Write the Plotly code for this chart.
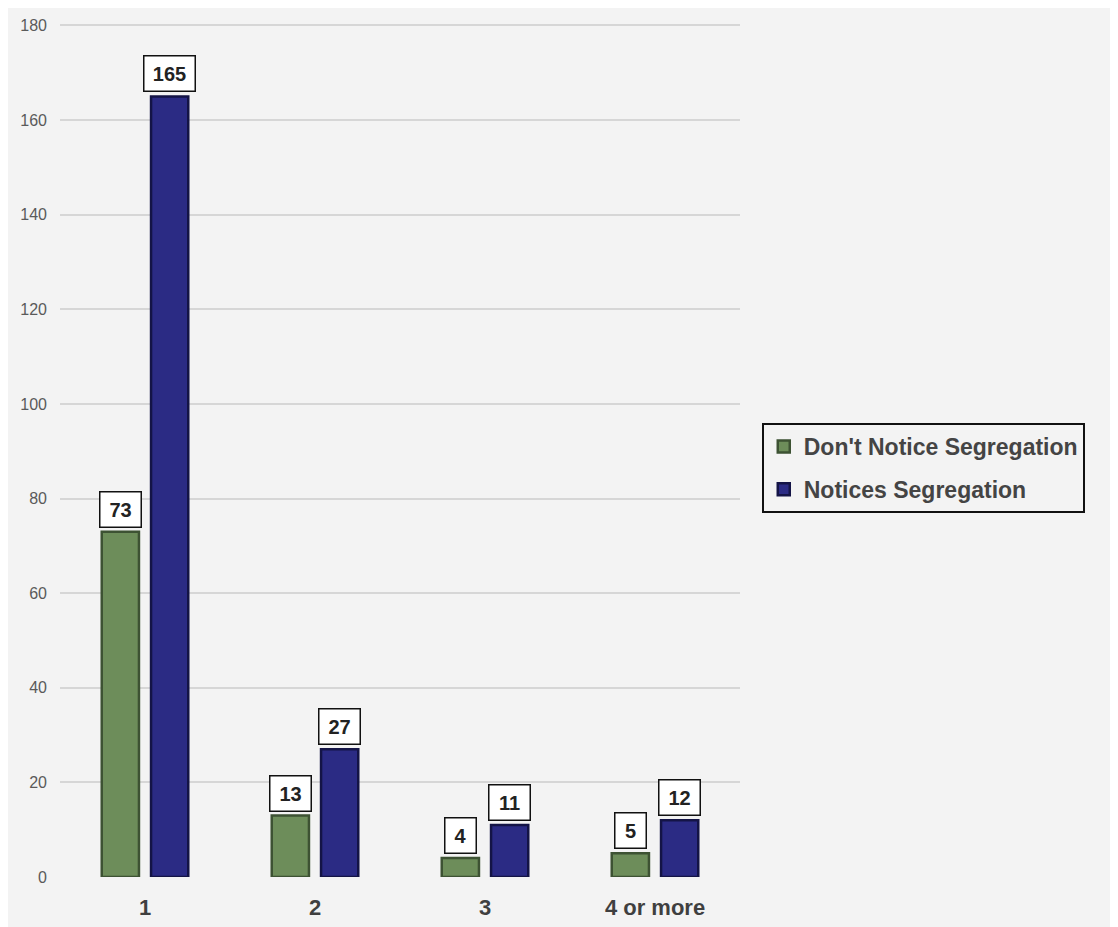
import plotly.graph_objects as go

categories = ["1", "2", "3", "4 or more"]
dont_notice = [73, 13, 4, 5]
notices = [165, 27, 11, 12]
series_names = ["Don't Notice Segregation", "Notices Segregation"]
y_ticks = [0, 20, 40, 60, 80, 100, 120, 140, 160, 180]

W, H = 1118, 927
L, R, T, B = 52, 386, 16, 58
bargap = 0.42
bargroupgap = 0.245
cat_px = (W - L - R) / len(categories)
shift = cat_px * (1 - bargap) / 4

FONT = "Liberation Sans, Arial, sans-serif"

fig = go.Figure()
fig.add_trace(go.Bar(
    x=categories, y=dont_notice, name=f"<b>{series_names[0]}</b>", legendgroup="a",
    marker=dict(color="#6d8d5a", line=dict(color="#3d5233", width=2.5)),
))
fig.add_trace(go.Bar(
    x=categories, y=notices, name=f"<b>{series_names[1]}</b>", legendgroup="b",
    marker=dict(color="#2b2b84", line=dict(color="#141446", width=2.5)),
))

annotations = []
for vals, sgn in [(dont_notice, -1), (notices, 1)]:
    for i, v in enumerate(vals):
        annotations.append(dict(
            x=i, y=v, xref="x", yref="y", text=f"<b>{v}</b>", showarrow=False,
            xshift=sgn * shift, yanchor="bottom", yshift=4,
            width=len(str(v)) * 10 + 8,
            font=dict(family=FONT, size=20, color="#222222"),
            bgcolor="white", bordercolor="#111111", borderwidth=1.5, borderpad=6,
        ))

fig.update_layout(
    width=W, height=H,
    margin=dict(l=L, r=R, t=T, b=B),
    paper_bgcolor="#f3f3f3", plot_bgcolor="#f3f3f3",
    barmode="group", bargap=bargap, bargroupgap=bargroupgap,
    font=dict(family=FONT, color="#555555"),
    xaxis=dict(
        type="category", showgrid=False, zeroline=False, showline=False,
        tickfont=dict(size=22, color="#3f3f3f", family=FONT),
        tickprefix="<b>", ticksuffix="</b>", ticklabelstandoff=15,
        automargin=False,
    ),
    yaxis=dict(
        range=[0, 180.3], tickvals=y_ticks, showgrid=True, gridcolor="#d6d6d6",
        gridwidth=1.5, zeroline=False, showline=False,
        tickfont=dict(size=16, color="#5a5a5a", family=FONT), ticklabelstandoff=12,
        automargin=False,
    ),
    legend=dict(
        x=1.032, y=0.4795, xanchor="left", yanchor="middle",
        bgcolor="#f3f3f3", bordercolor="#111111", borderwidth=2,
        font=dict(size=23, color="#444444", family=FONT),
        itemwidth=30, tracegroupgap=10,
    ),
    annotations=annotations,
)

fig.write_html("out.html")
